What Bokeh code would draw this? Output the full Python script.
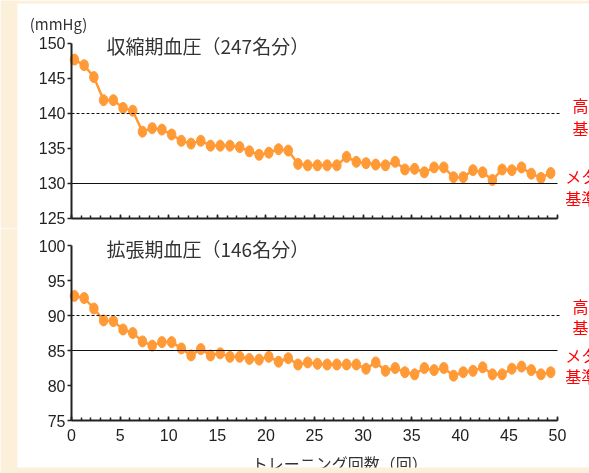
from bokeh.plotting import figure
from bokeh.layouts import column
from bokeh.models import (Label, Div, FixedTicker, Range1d, ColumnDataSource,
                          LinearAxis, BoxAnnotation)
from bokeh.transform import dodge
from bokeh.embed import file_html
from bokeh.resources import INLINE

# ---- data ----
sessions = list(range(50))
systolic = [147.7, 146.9, 145.2, 141.9, 141.9, 140.8, 140.4, 137.4, 137.9, 137.7,
            137.0, 136.1, 135.7, 136.1, 135.4, 135.4, 135.4, 135.2, 134.6, 134.1,
            134.4, 134.9, 134.7, 132.8, 132.6, 132.6, 132.6, 132.6, 133.8, 133.1,
            132.9, 132.7, 132.6, 133.1, 132.0, 132.1, 131.6, 132.3, 132.3, 130.9,
            130.9, 131.9, 131.6, 130.5, 132.0, 131.9, 132.3, 131.4, 130.8, 131.5]
diastolic = [92.8, 92.5, 91.0, 89.3, 89.2, 88.0, 87.5, 86.3, 85.7, 86.2,
             86.2, 85.3, 84.3, 85.2, 84.3, 84.6, 84.1, 84.1, 83.8, 83.7,
             84.1, 83.4, 83.9, 83.0, 83.3, 83.1, 83.0, 83.0, 83.0, 83.0,
             82.4, 83.3, 82.1, 82.5, 81.9, 81.6, 82.5, 82.2, 82.5, 81.4,
             81.9, 82.1, 82.6, 81.6, 81.6, 82.4, 82.7, 82.2, 81.6, 81.9]
x_ticks = [0, 5, 10, 15, 20, 25, 30, 35, 40, 45, 50]
x_minor = list(range(51))
sys_ticks = [125, 130, 135, 140, 145, 150]
dia_ticks = [75, 80, 85, 90, 95, 100]
sys_high, sys_meta = 140, 130
dia_high, dia_meta = 90, 85
sys_title = "収縮期血圧（247名分）"
dia_title = "拡張期血圧（146名分）"
unit_label = "(mmHg)"
x_title = "トレーニング回数（回）"
high_label = ["高血圧", "基準"]
meta_label = ["メタボ", "基準"]

ORANGE = "#FF9A36"
RED = "#FF0000"
CJK = "Noto Sans CJK JP"
TEXT = "#222222"
BEIGE = "#FCF0DA"

# layout: the frame fills each canvas; axes sit at fixed data locations
W = 589
X_START, X_END = -7.305, 53.29


def make_panel(yvals, yticks, height, y_top, y_bottom, show_xlabels,
               top_strip=None, bottom_strip=None):
    p = figure(width=W, height=height, output_backend="svg", toolbar_location=None,
               x_range=Range1d(X_START, X_END), y_range=Range1d(y_bottom, y_top),
               x_axis_location=None, y_axis_location=None,
               min_border=0, min_border_left=0, min_border_right=0,
               min_border_top=0, min_border_bottom=0)
    p.outline_line_color = None
    p.background_fill_color = "white"
    p.border_fill_color = "white"
    p.grid.visible = False

    xa = LinearAxis(fixed_location=yticks[0], bounds=(x_ticks[0], x_ticks[-1]),
                    ticker=FixedTicker(ticks=x_ticks, minor_ticks=x_minor))
    xa.axis_line_width = 2
    xa.axis_line_color = TEXT
    xa.major_tick_in = 4
    xa.major_tick_out = 0
    xa.minor_tick_in = 3
    xa.minor_tick_out = 0
    xa.major_tick_line_color = TEXT
    xa.minor_tick_line_color = TEXT
    xa.major_tick_line_width = 1.5
    xa.minor_tick_line_width = 1.5
    if show_xlabels:
        xa.major_label_text_font = "Liberation Sans"
        xa.major_label_text_font_size = "16px"
        xa.major_label_text_color = TEXT
        xa.major_label_standoff = 8
    else:
        xa.major_label_text_font_size = "1px"
        xa.major_label_text_alpha = 0
        xa.major_label_standoff = 0
    p.add_layout(xa, "below")

    ya = LinearAxis(fixed_location=x_ticks[0], bounds=(yticks[0], yticks[-1]),
                    ticker=FixedTicker(ticks=yticks, minor_ticks=[]))
    ya.axis_line_width = 2
    ya.axis_line_color = TEXT
    ya.major_tick_in = 0
    ya.major_tick_out = 4
    ya.major_tick_line_color = TEXT
    ya.major_tick_line_width = 1.5
    ya.major_label_text_font = "Liberation Sans"
    ya.major_label_text_font_size = "16px"
    ya.major_label_text_color = TEXT
    ya.major_label_standoff = 2
    p.add_layout(ya, "left")

    # beige page border, as in the original picture
    p.add_layout(BoxAnnotation(right=-5.56, fill_color=BEIGE, fill_alpha=1,
                               line_color=None, level="underlay"))
    if top_strip is not None:
        p.add_layout(BoxAnnotation(bottom=top_strip, fill_color=BEIGE, fill_alpha=1,
                                   line_color=None, level="underlay"))

    src = ColumnDataSource(dict(x=sessions, y=yvals))
    p.line(x=dodge("x", 0.3), y="y", source=src, line_color=ORANGE, line_width=2.5)
    p.ellipse(x=dodge("x", 0.3), y="y", source=src, width=8.5, height=11,
              width_units="screen", height_units="screen",
              fill_color=ORANGE, line_color=ORANGE)
    return p


p1 = make_panel(systolic, sys_ticks, 228, 156.14, 123.57, False, top_strip=155.71)
p2 = make_panel(diastolic, dia_ticks, 245, 102.43, 67.43, True)
p2.x_range = p1.x_range

for p, hi, me in ((p1, sys_high, sys_meta), (p2, dia_high, dia_meta)):
    p.segment(x0=[x_ticks[0]], x1=[x_ticks[-1] + 0.3], y0=[hi], y1=[hi],
              line_color="#111111", line_width=1, line_dash="3 2")
    p.segment(x0=[x_ticks[0]], x1=[x_ticks[-1]], y0=[me], y1=[me],
              line_color="#111111", line_width=1.2)

# titles inside panels
p1.add_layout(Label(x=3.6, y=149.7, text=sys_title, text_baseline="middle",
                    text_font=CJK, text_font_size="19px", text_color="#333333"))
p2.add_layout(Label(x=3.6, y=99.6, text=dia_title, text_baseline="middle",
                    text_font=CJK, text_font_size="19px", text_color="#333333"))
p1.add_layout(Label(x=-4.3, y=152.9, text=unit_label, text_baseline="middle",
                    text_font=CJK, text_font_size="15px", text_color="#333333"))
p2.add_layout(Label(x=27.6, y=69.0, text=x_title, text_baseline="middle", text_align="center",
                    text_font=CJK, text_font_size="16px", text_color="#333333"))

# red reference labels (cut at the right edge as in the original)
for p, ys in ((p1, (141.15, 137.9, 131.0, 127.9)), (p2, (91.3, 88.3, 84.3, 81.3))):
    p.add_layout(Label(x=51.55, y=ys[0], text=high_label[0], text_baseline="middle",
                       text_font=CJK, text_font_size="16px", text_color=RED))
    p.add_layout(Label(x=51.55, y=ys[1], text=high_label[1], text_baseline="middle",
                       text_font=CJK, text_font_size="16px", text_color=RED))
    p.add_layout(Label(x=50.8, y=ys[2], text=meta_label[0], text_baseline="middle",
                       text_font=CJK, text_font_size="16px", text_color=RED))
    p.add_layout(Label(x=50.8, y=ys[3], text=meta_label[1], text_baseline="middle",
                       text_font=CJK, text_font_size="16px", text_color=RED))

# beige strip along the bottom edge, drawn over the cut-off axis title
p2.add_layout(BoxAnnotation(top=68.29, fill_color=BEIGE, fill_alpha=1,
                            line_color=None, level="overlay"))

bg = Div(text="", width=10, height=10,
         styles={"position": "fixed", "left": "0px", "top": "0px", "width": "589px",
                 "height": "473px", "background-color": "white", "z-index": "-1"})

layout = column(bg, p1, p2, spacing=0)

open("out.html", "w").write(file_html(layout, INLINE))
